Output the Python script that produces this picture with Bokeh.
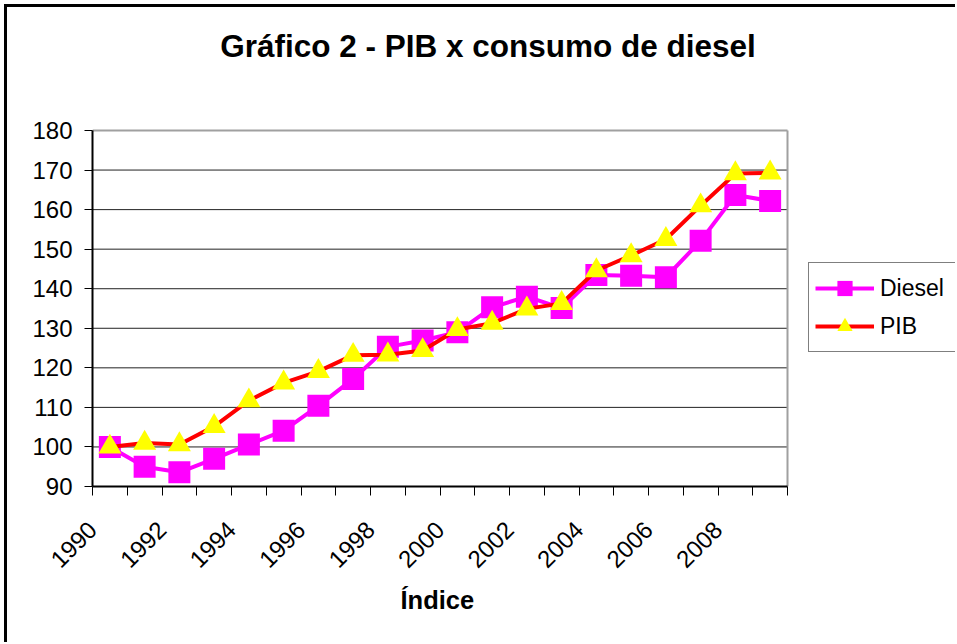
import math
from bokeh.plotting import figure
from bokeh.models import (Range1d, FixedTicker, Legend, LegendItem, Label, Title)
from bokeh.embed import file_html
from bokeh.resources import INLINE

# ---- data ----
years = list(range(1990, 2010))
diesel = [100.0, 95.0, 93.6, 97.0, 100.6, 104.1, 110.4, 117.2, 125.3, 126.9,
          129.0, 135.3, 138.0, 135.1, 143.5, 143.3, 142.9, 152.1, 163.7, 162.2]
pib = [100.0, 101.0, 100.6, 105.2, 111.7, 116.2, 119.1, 123.2, 123.3, 124.4,
       129.7, 131.3, 134.9, 136.3, 144.6, 148.4, 152.5, 161.0, 169.1, 169.3]
y_ticks = list(range(90, 190, 10))
label_years = [y for y in years if (y - 1990) % 2 == 0 and y < 2009]
title_text = "Gráfico 2 - PIB x consumo de diesel"
x_title = "Índice"

FONT = "Liberation Sans"

# ---- layout (pixels, canvas coordinates) ----
W, H = 948, 635
PLOT_L, PLOT_R = 85, 780      # plot area left/right
PLOT_T, PLOT_B = 123, 479     # plot area top/bottom
n = len(years)
y0, y1 = y_ticks[0], y_ticks[-1]
px_per_x = (PLOT_R - PLOT_L) / n
px_per_y = (PLOT_B - PLOT_T) / (y1 - y0)
x_end = n + (W - PLOT_R) / px_per_x
y_end = y1 + PLOT_T / px_per_y

# category centres on a numeric axis (boundaries at integers)
xs = [i + 0.5 for i in range(n)]

p = figure(title=None, output_backend="svg", toolbar_location=None,
           frame_width=W - PLOT_L, frame_height=PLOT_B,
           x_range=Range1d(0, x_end), y_range=Range1d(y0, y_end),
           min_border_left=PLOT_L, min_border_right=0,
           min_border_top=0, min_border_bottom=H - PLOT_B)
p.styles = {"border-left": "3px solid black", "border-top": "3px solid black",
            "margin-left": "4px", "margin-top": "4px"}
p.background_fill_color = "white"
p.border_fill_color = "white"
p.outline_line_color = None

# axes
p.xaxis.bounds = (0, n)
p.xaxis.ticker = FixedTicker(ticks=list(range(0, n + 1)))
overrides = {}
for i in range(n + 1):
    yr = 1990 + i
    overrides[i] = str(yr) if yr in label_years else ""
p.xaxis.major_label_overrides = overrides
p.xaxis.major_label_orientation = math.pi / 4
p.xaxis.minor_tick_line_color = None
p.xaxis.major_tick_out = 9
p.xaxis.major_tick_in = 0
p.xaxis.major_label_standoff = 30
p.xaxis.axis_line_width = 2
p.xaxis.axis_line_color = "black"
p.xaxis.major_tick_line_color = "black"
p.xaxis.major_label_text_font = FONT
p.xaxis.major_label_text_font_size = "24px"
p.xaxis.major_label_text_color = "black"

p.yaxis.bounds = (y0, y1)
p.yaxis.ticker = FixedTicker(ticks=y_ticks)
p.yaxis.minor_tick_line_color = None
p.yaxis.major_tick_out = 8
p.yaxis.major_tick_in = 0
p.yaxis.major_label_standoff = 12
p.yaxis.axis_line_width = 2
p.yaxis.axis_line_color = "black"
p.yaxis.major_tick_line_color = "black"
p.yaxis.major_label_text_font = FONT
p.yaxis.major_label_text_font_size = "24px"
p.yaxis.major_label_text_color = "black"

p.xgrid.grid_line_color = None
p.ygrid.grid_line_color = None

# x-axis title, centred under the plot area
p.add_layout(Title(text=x_title, align="left", offset=308, standoff=10,
                   text_font=FONT, text_font_style="bold",
                   text_font_size="25.5px", text_color="black"), "below")

# grid lines and plot-area border limited to the plot area
inner = y_ticks[1:-1]
p.segment(x0=[0] * len(inner), x1=[n] * len(inner), y0=inner, y1=inner,
          line_color="#222222", line_width=1)
p.segment(x0=[0, n], x1=[n, n], y0=[y1, y0], y1=[y1, y1],
          line_color="#a0a0a0", line_width=2)

# series
l_dsl = p.line(xs, diesel, line_color="#FF00FF", line_width=4)
s_dsl = p.scatter(xs, diesel, marker="square", size=22, fill_color="#FF00FF",
                  line_color=None)
l_pib = p.line(xs, pib, line_color="#FF0000", line_width=4)
s_pib = p.scatter(xs, pib, marker="triangle", size=23, fill_color="#FFFF00",
                  line_color=None)

legend = Legend(items=[LegendItem(label="Diesel", renderers=[l_dsl, s_dsl]),
                       LegendItem(label="PIB", renderers=[l_pib, s_pib])],
                location=(801 - PLOT_L, PLOT_B - 345))
legend.label_text_font = FONT
legend.label_text_font_size = "23px"
legend.label_text_color = "black"
legend.glyph_width = 59
legend.glyph_height = 38
legend.label_height = 38
legend.label_width = 120
legend.spacing = 0
legend.padding = 6
legend.label_standoff = 6
legend.border_line_color = "black"
legend.border_line_width = 1
legend.background_fill_color = "white"
legend.margin = 0
p.add_layout(legend, "center")

title = Label(x=480.5 - PLOT_L, y=PLOT_B - 38.7, x_units="screen", y_units="screen",
              text=title_text, text_align="center", text_baseline="alphabetic",
              text_font=FONT, text_font_style="bold", text_font_size="31.5px",
              text_color="black")
p.add_layout(title)

open("out.html", "w").write(file_html(p, INLINE))
